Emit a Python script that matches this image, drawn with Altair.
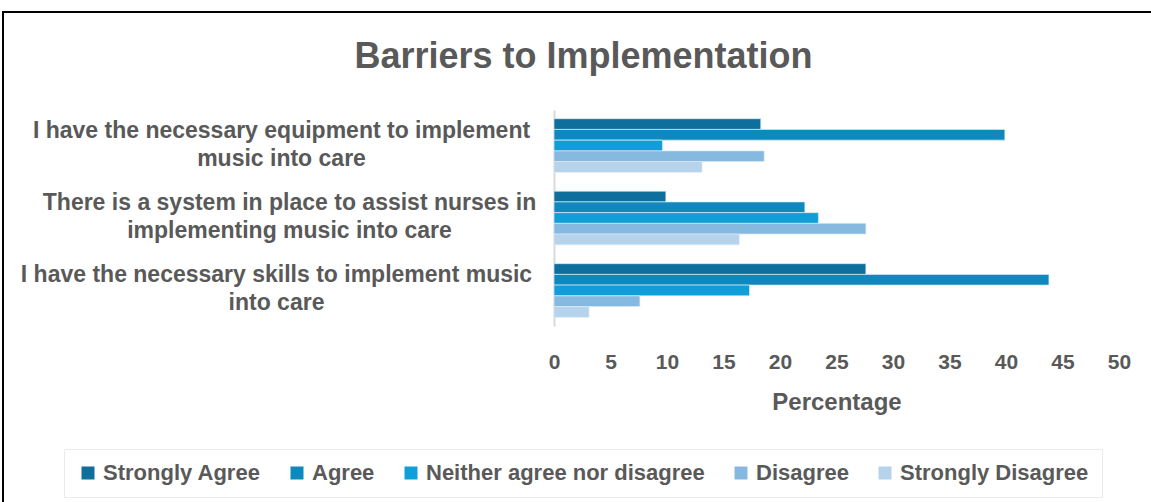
import altair as alt
import pandas as pd

questions = [
    "I have the necessary equipment to implement music into care",
    "There is a system in place to assist nurses in implementing music into care",
    "I have the necessary skills to implement music into care",
]
question_lines = [
    ["I have the necessary equipment to implement", "music into care"],
    ["There is a system in place to assist nurses in", "implementing music into care"],
    ["I have the necessary skills to implement music", "into care"],
]
label_pad = [273, 265, 278]

responses = ["Strongly Agree", "Agree", "Neither agree nor disagree", "Disagree", "Strongly Disagree"]
colors = ["#0E6F9C", "#0E89BD", "#109ED8", "#85B9E0", "#B6D3EC"]

strongly_agree = [18.3, 9.9, 27.6]
agree = [39.9, 22.2, 43.8]
neither = [9.6, 23.4, 17.3]
disagree = [18.6, 27.6, 7.6]
strongly_disagree = [13.1, 16.4, 3.1]

series = [strongly_agree, agree, neither, disagree, strongly_disagree]
rows = []
for r, vals in zip(responses, series):
    for q, v in zip(questions, vals):
        rows.append({"Question": q, "Response": r, "Percentage": v})
df = pd.DataFrame(rows)

GRAY = "#595959"
FONT = "Liberation Sans"

label_expr = "".join(
    f"datum.value == {q!r} ? {lines!r} : " for q, lines in zip(questions, question_lines)
) + "datum.label"
pad_expr = "".join(
    f"datum.value == {q!r} ? {p} : " for q, p in zip(questions, label_pad)
) + "270"

bars = alt.Chart(df).mark_bar(stroke="#DCEAF5", strokeWidth=0.7).encode(
    x=alt.X(
        "Percentage:Q",
        scale=alt.Scale(domain=[0, 50]),
        axis=alt.Axis(
            values=list(range(0, 55, 5)),
            title="Percentage",
            domain=False,
            ticks=False,
            grid=False,
            labelFlush=False,
            labelFontSize=21,
            labelFontWeight="bold",
            labelColor=GRAY,
            labelFont=FONT,
            labelPadding=25,
            titleFontSize=24,
            titleFontWeight="bold",
            titleColor=GRAY,
            titleFont=FONT,
            titlePadding=18,
        ),
    ),
    y=alt.Y(
        "Question:N",
        sort=questions,
        scale=alt.Scale(paddingInner=0.26, paddingOuter=0.12),
        axis=alt.Axis(
            title=None,
            ticks=False,
            domain=True,
            domainColor="#D9D9D9",
            domainWidth=2,
            labelExpr=label_expr,
            labelAlign="center",
            labelBaseline="middle",
            labelPadding=alt.ExprRef(pad_expr),
            labelOffset=-15,
            labelFontSize=23,
            labelFontWeight="bold",
            labelColor=GRAY,
            labelFont=FONT,
            labelLineHeight=28,
            labelLimit=0,
        ),
    ),
    yOffset=alt.YOffset("Response:N", sort=responses),
    color=alt.Color(
        "Response:N",
        sort=responses,
        scale=alt.Scale(domain=responses, range=colors),
        legend=alt.Legend(
            title=None,
            orient="none",
            direction="horizontal",
            legendX=-490,
            legendY=339,
            symbolType="square",
            symbolSize=169,
            symbolStrokeWidth=0,
            labelFontSize=22,
            labelFontWeight="bold",
            labelColor=GRAY,
            labelFont=FONT,
            labelOffset=4,
            columnPadding=25,
            padding=13,
            strokeColor="#EBEBEB",
            labelLimit=0,
        ),
    ),
)

frame_left = alt.Chart(df).mark_rule(color="black", strokeWidth=2).encode(
    x=alt.value(-551), y=alt.value(-99), y2=alt.value(392)
)
frame_top = alt.Chart(df).mark_rule(color="black", strokeWidth=2).encode(
    x=alt.value(-552), x2=alt.value(600), y=alt.value(-98)
)

chart = alt.layer(bars, frame_left, frame_top).properties(
    width=565,
    height=216,
    autosize=alt.AutoSizeParams(type="none"),
    padding={"left": 554, "top": 110, "right": 32, "bottom": 176},
    background="white",
    title=alt.Title(
        "Barriers to Implementation",
        fontSize=36,
        fontWeight="bold",
        color=GRAY,
        font=FONT,
        anchor="middle",
        dx=-253,
        offset=-66,
    ),
).configure_view(stroke=None)

chart.save("out.html", embed_options={"renderer": "svg", "actions": False})
